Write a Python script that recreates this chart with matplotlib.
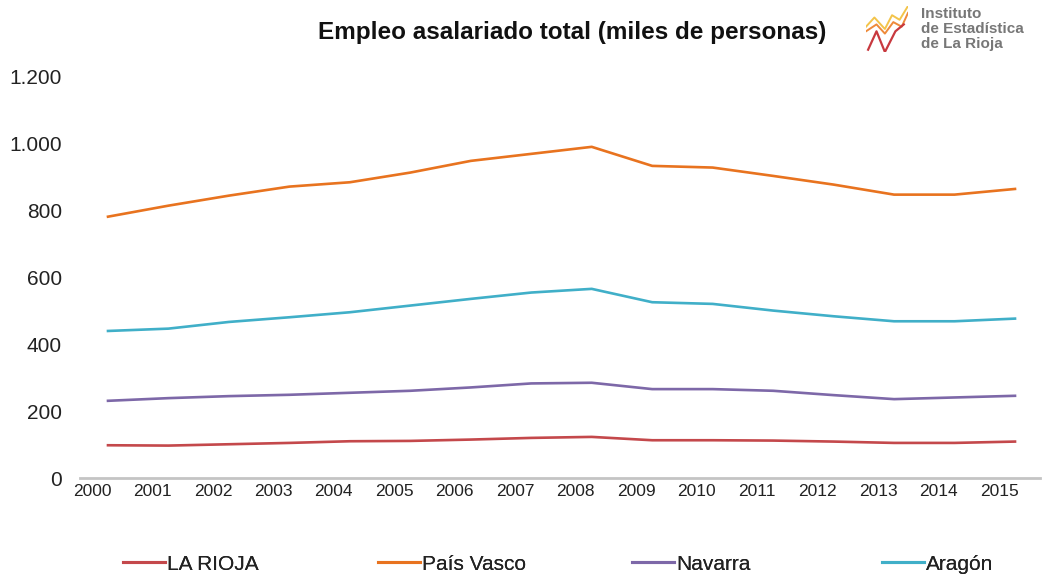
import matplotlib
matplotlib.use("Agg")
import matplotlib.pyplot as plt
import matplotlib.transforms as mtransforms
from matplotlib.lines import Line2D

plt.rcParams['font.family'] = ['Liberation Sans', 'DejaVu Sans']

years = list(range(2000, 2016))
year_labels = [str(y) for y in years]
la_rioja = [98, 97, 101, 105, 110, 111, 115, 120, 123, 113, 113, 112, 109, 105, 105, 109]
pais_vasco = [782, 815, 845, 872, 885, 914, 949, 970, 991, 934, 929, 904, 878, 848, 848, 865]
navarra = [231, 239, 245, 249, 255, 261, 271, 283, 285, 266, 266, 261, 248, 236, 241, 246]
aragon = [440, 447, 467, 481, 496, 516, 536, 555, 566, 526, 521, 501, 484, 469, 469, 477]

series_names = ["LA RIOJA", "País Vasco", "Navarra", "Aragón"]
series_values = [la_rioja, pais_vasco, navarra, aragon]
colors = ["#c4484b", "#e8731f", "#7d68a8", "#40afc8"]
y_ticks = [0, 200, 400, 600, 800, 1000, 1200]
y_tick_labels = ["0", "200", "400", "600", "800", "1.000", "1.200"]

W, H = 1046, 579
fig = plt.figure(figsize=(W / 100, H / 100), dpi=100)
ax = fig.add_axes([80 / W, 1 - 478 / H, (1040 - 80) / W, (478 - 77) / H])

handles = []
for name, vals, c in zip(series_names, series_values, colors):
    h, = ax.plot(years, vals, color=c, lw=1.9, solid_joinstyle='round')
    handles.append(h)

ax.set_ylim(0, 1200)
ax.set_xlim(2000 - 28 / 60.47, 2015 + 25 / 60.47)
ax.set_yticks(y_ticks)
ax.set_yticklabels(y_tick_labels)
ax.set_xticks(years)
ax.set_xticklabels(year_labels)
ax.tick_params(axis='y', length=0, pad=13, labelsize=15, labelcolor='#222222')
ax.tick_params(axis='x', length=0, pad=4, labelsize=12.5, labelcolor='#222222')
offset = mtransforms.ScaledTranslation(-16 / 100, 0, fig.dpi_scale_trans)
for lab in ax.get_xticklabels():
    lab.set_transform(lab.get_transform() + offset)

for s in ['top', 'right', 'left']:
    ax.spines[s].set_visible(False)
ax.spines['bottom'].set_color('#c4c4c4')
ax.spines['bottom'].set_linewidth(2)

fig.text(572 / W, 1 - 32 / H, "Empleo asalariado total (miles de personas)",
         ha='center', va='center', fontsize=17.5, fontweight='bold', color='#111111')

# legend entries evenly spaced
leg_x = [123, 378, 632, 882]
for h, name, x in zip(handles, series_names, leg_x):
    lg = fig.legend([Line2D([0], [0], color=h.get_color(), lw=2.2)], [name],
                    loc='center left', bbox_to_anchor=(x / W, 1 - 564 / H),
                    frameon=False, fontsize=15, handlelength=2.0,
                    handletextpad=0.12, borderpad=0, borderaxespad=0)
    for t in lg.get_texts():
        t.set_color('#222222')
    fig.add_artist(lg)

# logo
lax = fig.add_axes([866 / W, 1 - 52 / H, 42 / W, 46 / H])
lax.axis('off')
lax.plot([0, 0.2, 0.45, 0.62, 0.8, 1.0], [0.55, 0.75, 0.5, 0.8, 0.7, 1.0], color='#f3c44a', lw=1.4)
lax.plot([0, 0.25, 0.45, 0.65, 0.85, 1.0], [0.45, 0.6, 0.4, 0.65, 0.55, 0.85], color='#ee8a3a', lw=1.4)
lax.plot([0.05, 0.25, 0.45, 0.7, 0.9], [0.05, 0.45, 0.0, 0.45, 0.6], color='#c8393f', lw=1.6)
lax.set_xlim(0, 1)
lax.set_ylim(0, 1)
fig.text(921 / W, 1 - 29 / H, "Instituto\nde Estadística\nde La Rioja", ha='left', va='center',
         fontsize=11, fontweight='bold', color='#777777', linespacing=1.08)

fig.savefig("out.png", dpi=100)
